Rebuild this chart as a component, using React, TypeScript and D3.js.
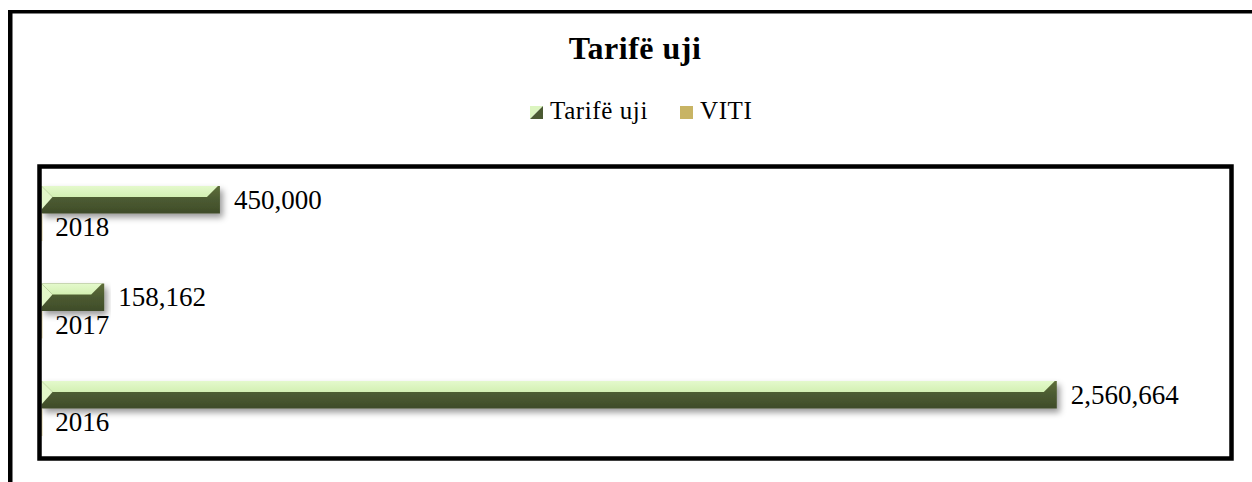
import React from "react";
import * as d3 from "d3";

const categories: string[] = ["2018", "2017", "2016"];
const seriesNames: string[] = ["Tarifë uji", "VITI"];
const tarifeValues: number[] = [450000, 158162, 2560664];
const vitiValues: number[] = [2018, 2017, 2016];
const title = "Tarifë uji";

const W = 1252;
const H = 482;

export default function App() {
  const x = d3.scaleLinear().domain([0, 3000000]).range([41.5, 1231]);
  const y = d3.scaleBand<string>().domain(categories).range([168.5, 461]).padding(0);
  const sub = d3.scaleBand<string>().domain(seriesNames).range([17.5, 72.5]).padding(0);
  const fmt = d3.format(",");
  const serif = "'Liberation Serif', 'Times New Roman', serif";
  const bh = sub.bandwidth();
  const t = 11;

  return (
    <svg
      width={W}
      height={H}
      style={{ position: "absolute", left: 0, top: 0, background: "#fff" }}
      xmlns="http://www.w3.org/2000/svg"
    >
      <defs>
        <linearGradient id="topFace" x1="0" y1="0" x2="0" y2="1">
          <stop offset="0" stopColor="#e4f9cc" />
          <stop offset="1" stopColor="#d3f0b3" />
        </linearGradient>
        <linearGradient id="frontFace" x1="0" y1="0" x2="0" y2="1">
          <stop offset="0" stopColor="#5e6e3a" />
          <stop offset="0.5" stopColor="#4b5a31" />
          <stop offset="1" stopColor="#3f4c29" />
        </linearGradient>
        <filter id="shadow" x="-5%" y="-40%" width="115%" height="200%">
          <feDropShadow dx="3" dy="4" stdDeviation="3" floodColor="#000" floodOpacity="0.4" />
        </filter>
      </defs>

      {/* outer frame (top and left) */}
      <line x1={8} y1={11.75} x2={W} y2={11.75} stroke="#000" strokeWidth={3.5} />
      <line x1={10.25} y1={10} x2={10.25} y2={H} stroke="#000" strokeWidth={4.5} />

      {/* title */}
      <text x={635} y={59} textAnchor="middle" fontFamily={serif} fontWeight="bold" fontSize={32} letterSpacing={0.5} fill="#000">
        {title}
      </text>

      {/* legend */}
      <g>
        <polygon points="530,106 543,106 530,119" fill="#dcf5c0" />
        <polygon points="543,106 543,119 530,119" fill="#4b5a32" />
        <text x={550} y={119} fontFamily={serif} fontSize={25} letterSpacing={0.6} fill="#000">
          {seriesNames[0]}
        </text>
        <rect x={680} y={106} width={13} height={13} fill="#c8b464" />
        <text x={700} y={119} fontFamily={serif} fontSize={25} letterSpacing={0.6} fill="#000">
          {seriesNames[1]}
        </text>
      </g>

      {/* bars: Tarifë uji */}
      {categories.map((c, i) => {
        const v = tarifeValues[i];
        const x0 = x(0);
        const x1 = x(v);
        const y0 = (y(c) ?? 0) + (sub(seriesNames[0]) ?? 0);
        const h = bh;
        const top = `${x0},${y0} ${x1 - 2},${y0} ${x1 - 2 - t},${y0 + t} ${x0 + t},${y0 + t}`;
        const left = `${x0},${y0} ${x0 + t},${y0 + t} ${x0},${y0 + h - 4}`;
        return (
          <g key={"t" + c}>
            <g filter="url(#shadow)">
              <rect x={x0} y={y0} width={x1 - x0} height={h} fill="url(#frontFace)" />
            </g>
            <polygon points={top} fill="url(#topFace)" />
            <polygon points={left} fill="#e2f7c8" />
            <text
              x={x1 + 14}
              y={y0 + h / 2}
              dominantBaseline="central"
              fontFamily={serif}
              fontSize={27}
              fill="#000"
            >
              {fmt(v)}
            </text>
          </g>
        );
      })}

      {/* bars: VITI */}
      {categories.map((c, i) => {
        const v = vitiValues[i];
        const x0 = x(0);
        const x1 = x(v);
        const y0 = (y(c) ?? 0) + (sub(seriesNames[1]) ?? 0);
        return (
          <g key={"v" + c}>
            <rect x={x0} y={y0} width={Math.max(0, x1 - x0)} height={bh} fill="#c8b464" filter="url(#shadow)" />
            <text
              x={x1 + 13}
              y={y0 + bh / 2}
              dominantBaseline="central"
              fontFamily={serif}
              fontSize={27}
              fill="#000"
            >
              {String(v)}
            </text>
          </g>
        );
      })}

      {/* plot area frame */}
      <rect x={39.5} y={166.5} width={1192} height={292} fill="none" stroke="#000" strokeWidth={4.5} />
    </svg>
  );
}
